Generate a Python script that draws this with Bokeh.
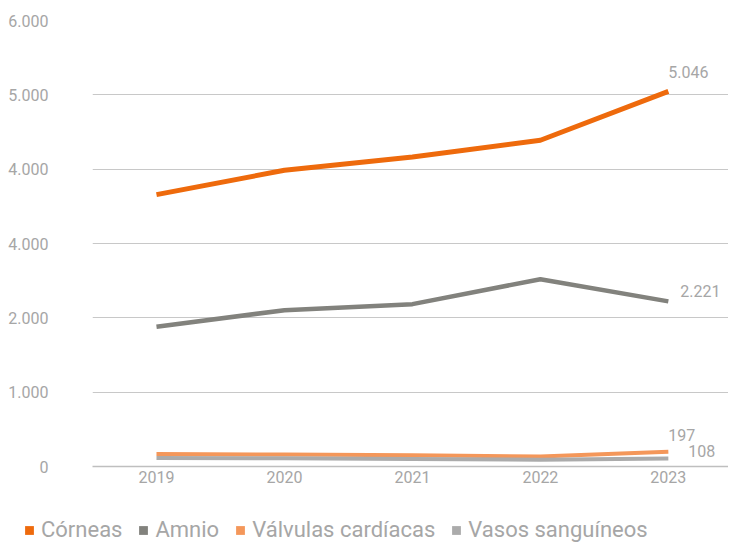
from bokeh.plotting import figure
from bokeh.models import (Range1d, FixedTicker, Legend, LegendItem, ColumnDataSource)
from bokeh.core.properties import value
from bokeh.embed import file_html
from bokeh.resources import INLINE

years = ["2019", "2020", "2021", "2022", "2023"]
corneas = [3658, 3985, 4164, 4389, 5046]
amnio = [1879, 2103, 2184, 2520, 2221]
valvulas = [168, 160, 150, 135, 197]
vasos = [115, 110, 100, 92, 108]
y_ticks = [0, 1000, 2000, 3000, 4000, 5000, 6000]
y_tick_labels = ["0", "1.000", "2.000", "4.000", "4.000", "5.000", "6.000"]
series_names = ["Córneas", "Amnio", "Válvulas cardíacas", "Vasos sanguíneos"]
end_labels = ["5.046", "2.221", "197", "108"]

colors = ["#EE6A0C", "#82827D", "#F4975A", "#ABABAB"]
widths = [5, 4.5, 4, 4]
TXT = "#A6A6A6"
FONT = "Roboto"

xs = list(range(len(years)))

p = figure(width=728, height=512, output_backend="svg", toolbar_location=None,
           x_range=Range1d(-0.5, 4.47), y_range=Range1d(0, 6000),
           min_border_left=92, min_border_right=0, min_border_top=20,
           min_border_bottom=46)
p.outline_line_color = None
p.background_fill_color = "white"

p.xgrid.grid_line_color = None
p.ygrid.grid_line_color = "#C8C8C8"
p.ygrid.grid_line_width = 1
p.ygrid.ticker = FixedTicker(ticks=y_ticks)

p.yaxis.ticker = FixedTicker(ticks=y_ticks)
p.yaxis.major_label_overrides = {t: l for t, l in zip(y_ticks, y_tick_labels)}
p.yaxis.axis_line_color = None
p.yaxis.major_tick_line_color = None
p.yaxis.minor_tick_line_color = None
p.yaxis.major_label_standoff = 38
p.yaxis.major_label_text_font = FONT
p.yaxis.major_label_text_font_size = "16px"
p.yaxis.major_label_text_color = TXT

p.xaxis.ticker = FixedTicker(ticks=xs)
p.xaxis.major_label_overrides = {i: y for i, y in zip(xs, years)}
p.xaxis.axis_line_color = "#BFBFBF"
p.xaxis.axis_line_width = 1.5
p.xaxis.major_tick_line_color = None
p.xaxis.minor_tick_line_color = None
p.xaxis.major_label_standoff = -2
p.xaxis.major_label_text_font = FONT
p.xaxis.major_label_text_font_size = "16px"
p.xaxis.major_label_text_color = TXT

all_series = [corneas, amnio, valvulas, vasos]
for vals, c, w in zip(all_series, colors, widths):
    p.line(xs, vals, line_color=c, line_width=w, line_join="round")

# end labels
offs = [(0, -19), (12, -10), (0, -17), (20, -7)]
lab_src = ColumnDataSource(dict(
    x=[xs[-1]] * 4,
    y=[s[-1] for s in all_series],
    t=end_labels,
    xo=[o[0] for o in offs],
    yo=[o[1] for o in offs],
))
p.text(x="x", y="y", text="t", x_offset="xo", y_offset="yo", source=lab_src,
       text_font=value(FONT), text_font_size=value("16px"), text_color=TXT,
       text_align="left", text_baseline="middle")

# legend in its own strip below the chart (separate root, no axes)
lg = figure(width=728, height=30, output_backend="svg", toolbar_location=None,
            x_range=Range1d(0, 1), y_range=Range1d(0, 1),
            x_axis_location=None, y_axis_location=None,
            min_border=0, min_border_left=0, min_border_right=0,
            min_border_top=0, min_border_bottom=0)
lg.grid.visible = False
lg.outline_line_color = None

items = []
for name, c in zip(series_names, colors):
    # placeholder point outside the visible range, only used for the legend swatch
    r = lg.scatter(x=[-5], y=[-5], marker="square", size=9, fill_color=c, line_color=None)
    items.append(LegendItem(label=name, renderers=[r]))

legend = Legend(items=items, orientation="horizontal", location=(18, 0),
                label_text_font=FONT, label_text_font_size="22px",
                label_text_color=TXT, glyph_width=22, glyph_height=22,
                label_standoff=1, spacing=10, padding=0, margin=0,
                border_line_color=None, background_fill_alpha=0)
lg.add_layout(legend, "center")

open("out.html", "w").write(file_html([p, lg], INLINE))
